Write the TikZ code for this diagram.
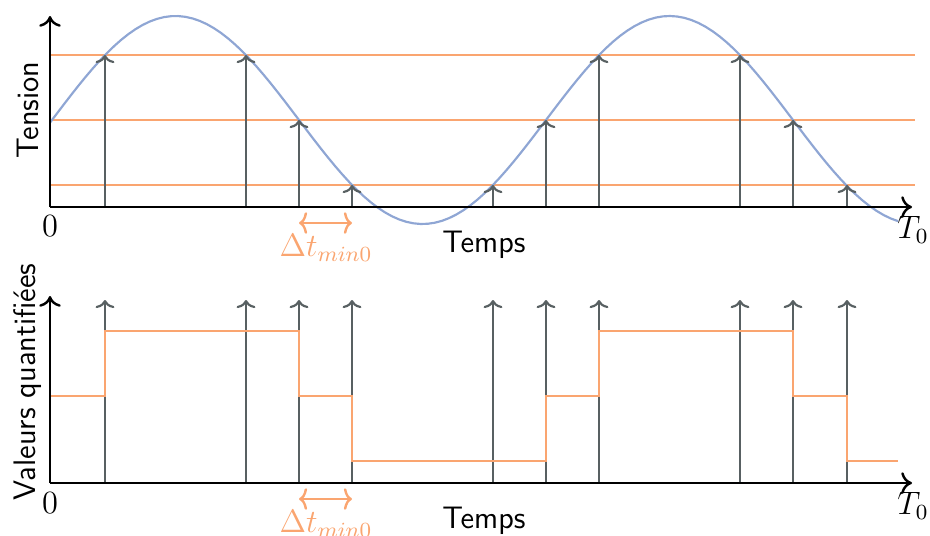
\documentclass[tikz,border=0pt]{standalone}
\usetikzlibrary{arrows.meta}

\definecolor{bleusig}{RGB}{143,166,212}
\definecolor{orangeq}{RGB}{250,165,112}
\definecolor{grisech}{RGB}{88,96,98}

\begin{document}
\begin{tikzpicture}[
  x = 0.37pt, y = -0.37pt,
  every node/.style = {font=\sffamily\fontsize{11.5}{14}\selectfont},
  axe/.style = {-{To[length=4pt,width=8pt]}, line width=0.9pt, black},
  echant/.style = {-{To[length=3pt,width=7pt]}, line width=0.8pt, grisech},
  niveau/.style = {orangeq, line width=0.8pt},
  delta/.style = {orangeq, line width=0.9pt,
    {To[length=3pt,width=8pt]}-{To[length=3pt,width=8pt]}},
  declare function = {
    sig(\x) = 120 - 104*sin((\x-52)*0.728745);
  }
]
\useasboundingbox (0,0) rectangle (930,535);
% 1 unite = 1 pixel de l'image
% periode du signal : 494 px (0.728745 = 360/494)

% --- signal analogique ---
\coordinate (O1) at (50,207);
\coordinate (X1) at (912,207);
\coordinate (Y1) at (50,16);

\foreach \n in {55,120,185}
  \draw[niveau] (50,\n) -- (915,\n);

\draw[bleusig, line width=0.8pt, domain=50:898, variable=\x, samples=120]
  plot (\x,{sig(\x)});

\foreach \x/\n [count=\i] in {105/55,246/55,299/120,352/185,493/185,
                             546/120,599/55,740/55,793/120,847/185} {
  \coordinate (b\i) at (\x,207);
  \coordinate (h\i) at (\x,\n);
  \draw[echant] (b\i) -- (h\i);
}

\draw[axe] (O1) -- (X1);
\draw[axe] (O1) -- (Y1);

\node[font=\rmfamily\large] (zero1) at (50,226) {0};
\node[font=\large] (T1) at (913,230) {$T_0$};
\node (temps1) at (484,245) {Temps};
\node[rotate=90] (tension) at (28,110) {Tension};

\draw[delta] (b3 |- 0,223) coordinate (d1) -- (b4 |- 0,223) coordinate (f1);
\node[orangeq, font=\large] (dt1) at (326,248) {$\Delta t_{min0}$};

% --- valeurs quantifiees ---
\coordinate (O2) at (50,483);
\coordinate (X2) at (912,483);
\coordinate (Y2) at (50,296);

\foreach \x [count=\i] in {105,246,299,352,493,546,599,740,793,847} {
  \coordinate (c\i) at (\x,483);
  \coordinate (s\i) at (\x,300);
  \draw[echant] (c\i) -- (s\i);
}

\draw[niveau] (50,396) -- (105,396) -- (105,331) -- (299,331) -- (299,396)
  -- (352,396) -- (352,461) -- (546,461) -- (546,396) -- (599,396)
  -- (599,331) -- (793,331) -- (793,396) -- (847,396) -- (847,461) -- (898,461);

\draw[axe] (O2) -- (X2);
\draw[axe] (O2) -- (Y2);

\node[font=\rmfamily\large] (zero2) at (50,503) {0};
\node[font=\large] (T2) at (913,506) {$T_0$};
\node (temps2) at (484,521) {Temps};
\node[rotate=90] (valeurs) at (28,382) {Valeurs quantifiées};

\draw[delta] (c3 |- 0,499) coordinate (d2) -- (c4 |- 0,499) coordinate (f2);
\node[orangeq, font=\large] (dt2) at (326,524) {$\Delta t_{min0}$};

\end{tikzpicture}
\end{document}
